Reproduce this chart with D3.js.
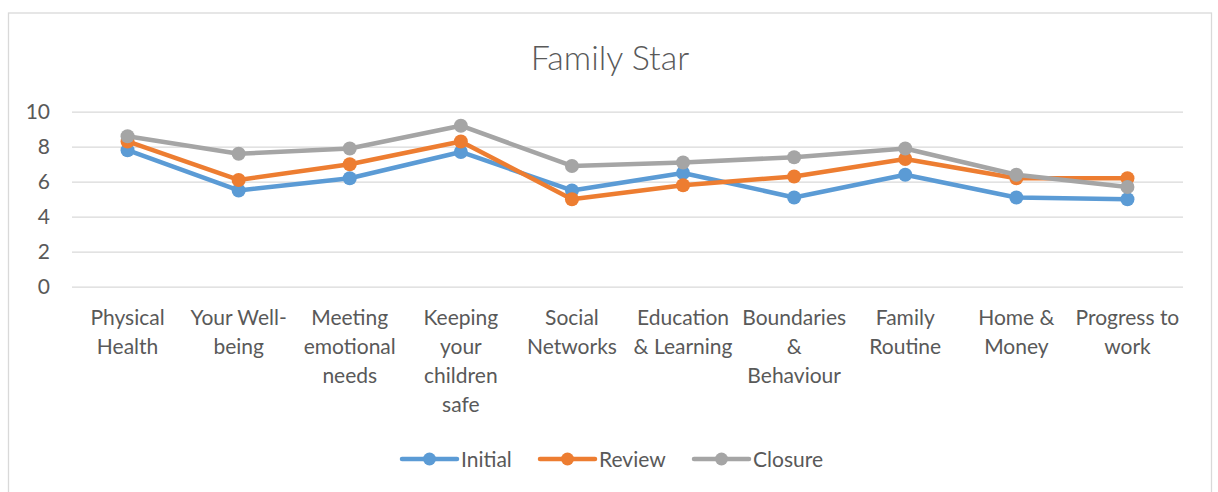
<!DOCTYPE html>
<html>
<head>
<meta charset="utf-8">
<script src="https://cdn.jsdelivr.net/npm/d3@7"></script>
<style>
    html, body { margin: 0; padding: 0; background: #fff; }
    svg text { font-family: Lato, "Open Sans", sans-serif; fill: #595959; }
</style>
</head>
<body>
<div id="chart"></div>
<script>
// Chart data
var categories = [
    "Physical\nHealth", "Your Well-\nbeing", "Meeting\nemotional\nneeds",
    "Keeping\nyour\nchildren\nsafe", "Social\nNetworks", "Education\n& Learning",
    "Boundaries\n&\nBehaviour", "Family\nRoutine", "Home &\nMoney", "Progress to\nwork"
];
var initial = [7.8, 5.5, 6.2, 7.7, 5.5, 6.5, 5.1, 6.4, 5.1, 5.0];
var review  = [8.3, 6.1, 7.0, 8.3, 5.0, 5.8, 6.3, 7.3, 6.2, 6.2];
var closure = [8.6, 7.6, 7.9, 9.2, 6.9, 7.1, 7.4, 7.9, 6.4, 5.7];
var yTicks = [0, 2, 4, 6, 8, 10];
var seriesNames = ["Initial", "Review", "Closure"];
var seriesColors = ["#5B9BD5", "#ED7D31", "#A5A5A5"];

var width = 1218, height = 492;
var plot = { left: 72, right: 1183, top: 111.7, bottom: 286.7 };
var fontSize = 21;

var svg = d3.select("#chart").append("svg")
    .attr("width", width).attr("height", height);

// Chart frame
svg.append("rect")
    .attr("x", 8.5).attr("y", 13).attr("width", 1203).attr("height", 500)
    .attr("fill", "#fff").attr("stroke", "#D9D9D9").attr("stroke-width", 1.3);

// Title
svg.append("text")
    .attr("x", 610).attr("y", 70)
    .attr("text-anchor", "middle")
    .attr("font-size", 34)
    .attr("font-weight", 300)
    .text("Family Star");

var x = d3.scaleBand()
    .domain(d3.range(categories.length))
    .range([plot.left, plot.right]);

var y = d3.scaleLinear()
    .domain([0, 10])
    .range([plot.bottom, plot.top]);

// Gridlines + y labels
var yAxis = d3.axisLeft(y).tickValues(yTicks)
    .tickSize(-(plot.right - plot.left)).tickPadding(22);
var yg = svg.append("g").attr("transform", "translate(" + plot.left + ",0)").call(yAxis);
yg.select(".domain").remove();
yg.selectAll(".tick line").attr("stroke", "#D9D9D9").attr("stroke-width", 1.3);
yg.selectAll(".tick text").attr("font-size", fontSize).attr("fill", "#595959")
    .attr("font-family", "Lato, 'Open Sans', sans-serif");

// Category labels (wrapped as in the picture)
var xAxis = d3.axisBottom(x).tickSize(0).tickFormat("");
var xg = svg.append("g").attr("transform", "translate(0," + plot.bottom + ")").call(xAxis);
xg.select(".domain").remove();
xg.selectAll(".tick").each(function(i) {
    var lines = categories[i].split("\n");
    var t = d3.select(this).append("text")
        .attr("text-anchor", "middle")
        .attr("font-size", fontSize)
        .attr("fill", "#595959")
        .attr("font-family", "Lato, 'Open Sans', sans-serif");
    lines.forEach(function(l, k) {
        t.append("tspan").attr("x", 0).attr("y", 38.5 + k * 29).text(l);
    });
});

// Series lines and markers
var allSeries = [initial, review, closure];
var line = d3.line()
    .x(function(d, i) { return x(i) + x.bandwidth() / 2; })
    .y(function(d) { return y(d); });

allSeries.forEach(function(values, s) {
    var g = svg.append("g").attr("class", "series");
    g.append("path").datum(values)
        .attr("d", line)
        .attr("fill", "none")
        .attr("stroke", seriesColors[s])
        .attr("stroke-width", 4.5)
        .attr("stroke-linejoin", "round");
    g.selectAll("circle").data(values).enter().append("circle")
        .attr("cx", function(d, i) { return x(i) + x.bandwidth() / 2; })
        .attr("cy", function(d) { return y(d); })
        .attr("r", 7)
        .attr("fill", seriesColors[s]);
});

// Legend
var legendX = [402, 540, 694];
var legend = svg.append("g");
seriesNames.forEach(function(name, s) {
    var g = legend.append("g").attr("transform", "translate(" + legendX[s] + ",459)");
    g.append("line").attr("x1", 0).attr("x2", 55)
        .attr("stroke", seriesColors[s]).attr("stroke-width", 4.5).attr("stroke-linecap", "round");
    g.append("circle").attr("cx", 27.5).attr("r", 6.5).attr("fill", seriesColors[s]);
    g.append("text").attr("x", 59).attr("y", 7.5).attr("font-size", fontSize).text(name);
});
</script>
</body>
</html>
